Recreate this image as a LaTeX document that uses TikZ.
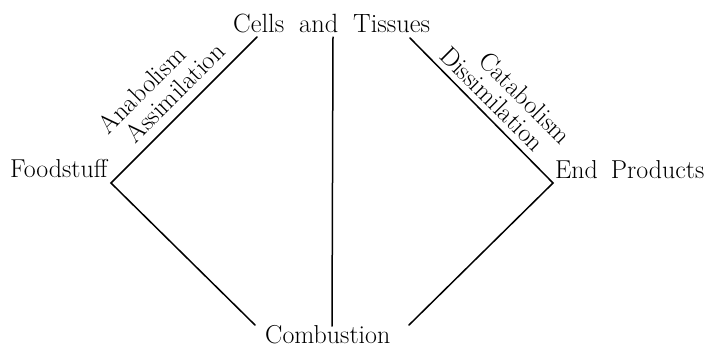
\documentclass[tikz,border=0pt]{standalone}
\newcommand\mylblfont{\fontsize{26}{31}\selectfont\spaceskip=13pt plus 2pt\relax}
\newcommand\mywidefont{\fontsize{26.5}{31}\selectfont\spaceskip=15pt plus 2pt\relax}
\begin{document}
\begin{tikzpicture}[x=1bp,y=-1bp,
  lbl/.style={inner sep=0pt,font=\mylblfont},
  conn/.style={line width=1.5bp,line cap=round}]
\useasboundingbox (0,0) rectangle (707,347);
% main texts
\node[lbl,font=\mywidefont,anchor=base west] (cells) at (233,32) {Cells and Tissues};
\node[lbl,anchor=base west] (food) at (10,177) {Foodstuff};
\node[lbl,anchor=base west] (endp) at (555,178) {End Products};
\node[lbl,anchor=base west] (comb) at (265,343) {Combustion};
% line ends
\coordinate (fc) at (111,183);
\coordinate (ec) at (553,183);
\coordinate (ctl) at (257,37);
\coordinate (ctr) at (410,38);
\coordinate (cv) at (333,37);
\coordinate (bl) at (255,325);
\coordinate (br) at (409,325);
\coordinate (bv) at (332,326);
\draw[conn] (ctl) -- (fc) -- (bl);
\draw[conn] (ctr) -- (ec) -- (br);
\draw[conn] (cv) -- (bv);
% process labels
\node[lbl,anchor=base,rotate=45] (assim) at (181,99) {Assimilation};
\node[lbl,anchor=base,rotate=45] (anab) at (148,96) {Anabolism};
\node[lbl,anchor=base,rotate=-45] (dissim) at (486,105) {Dissimilation};
\node[lbl,anchor=base,rotate=-45] (catab) at (519,104) {Catabolism};
\end{tikzpicture}
\end{document}
